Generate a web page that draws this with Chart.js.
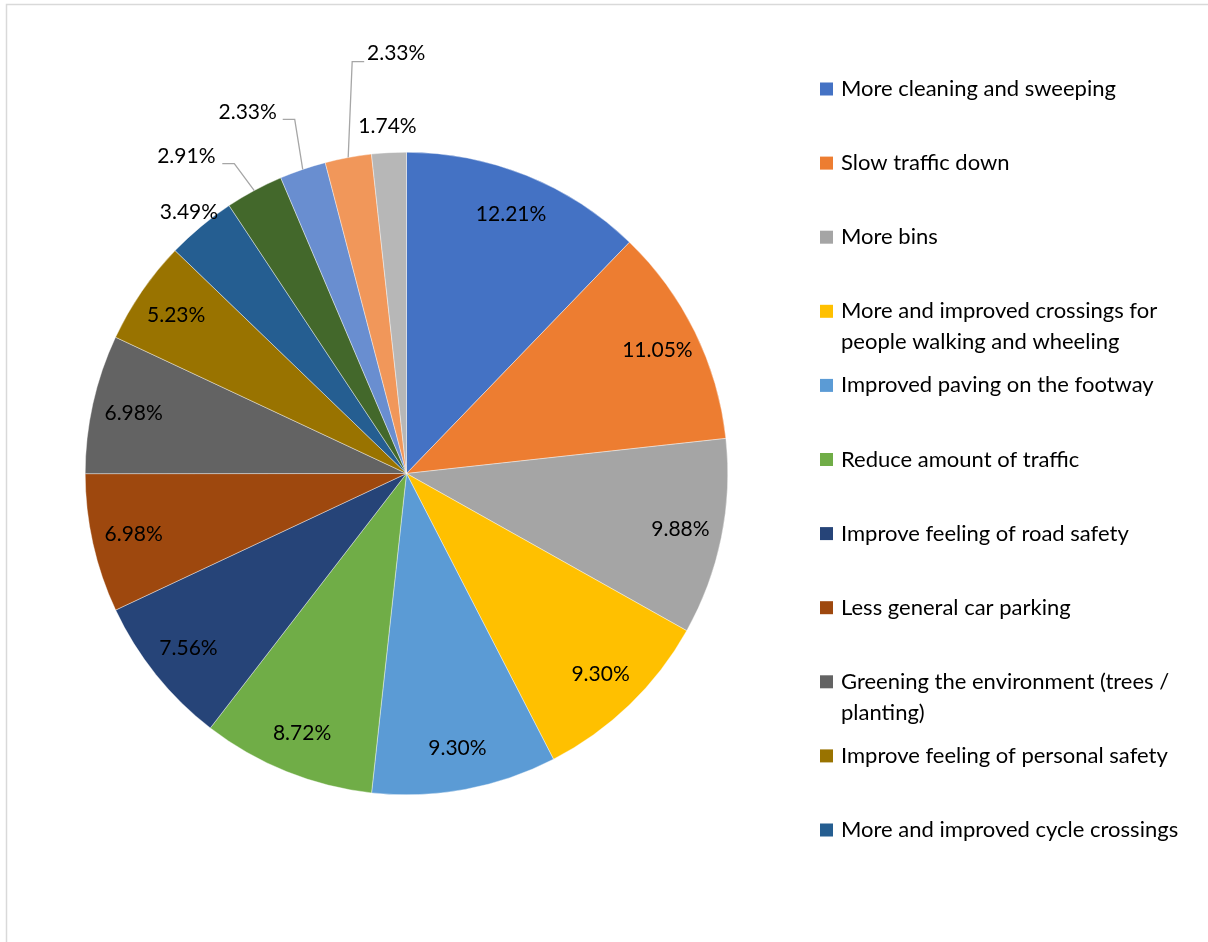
<!DOCTYPE html>
<html>
<head>
<meta charset="utf-8">
<script src="https://cdn.jsdelivr.net/npm/chart.js@4.4.1/dist/chart.umd.min.js"></script>
<style>
  html, body { margin: 0; padding: 0; background: #fff; }
  #wrap { position: absolute; left: 0; top: 0; width: 1208px; height: 942px; }
</style>
</head>
<body>
<div id="wrap"><canvas id="pieChart" width="1208" height="942"></canvas></div>
<script>
const categories = [
  'More cleaning and sweeping',
  'Slow traffic down',
  'More bins',
  'More and improved crossings for people walking and wheeling',
  'Improved paving on the footway',
  'Reduce amount of traffic',
  'Improve feeling of road safety',
  'Less general car parking',
  'Greening the environment (trees / planting)',
  'Improve feeling of personal safety',
  'More and improved cycle crossings',
  'Other 1',
  'Other 2',
  'Other 3',
  'Other 4'
];
const shares = [12.21, 11.05, 9.88, 9.30, 9.30, 8.72, 7.56, 6.98, 6.98, 5.23, 3.49, 2.91, 2.33, 2.33, 1.74];
const sliceColors = [
  '#4472C4', '#ED7D31', '#A5A5A5', '#FFC000', '#5B9BD5',
  '#70AD47', '#264478', '#9E480E', '#636363', '#997300',
  '#255E91', '#43682B', '#698ED0', '#F1975A', '#B7B7B7'
];
// only the first entries fit in the legend box
const legendCount = 11;

const labelFont = '21px Lato';
const legendFont = '22px Lato';

// outside labels: distance from centre as a fraction of the radius
const outsideLabels = { 10: 1.058, 14: 1.083 };
// labels with leader lines, offsets from the point where the slice meets the rim
const leaderLabels = {
  11: { elbow: [-20, -27], tail: [-32, -27], label: [-68, -34] },
  12: { elbow: [-8, -50], tail: [-20, -50], label: [-55, -57] },
  13: { elbow: [4, -96], tail: [16, -96], label: [48, -104] }
};

const framePlugin = {
  id: 'frame',
  beforeDraw(chart) {
    const ctx = chart.ctx;
    ctx.save();
    ctx.strokeStyle = '#d9d9d9';
    ctx.lineWidth = 1.5;
    ctx.strokeRect(6.5, 4.5, 1400, 1200);
    ctx.restore();
  }
};

const sliceLabels = {
  id: 'sliceLabels',
  afterDatasetsDraw(chart) {
    const ctx = chart.ctx;
    const meta = chart.getDatasetMeta(0);
    ctx.save();
    ctx.font = labelFont;
    ctx.fillStyle = '#000';
    ctx.textAlign = 'center';
    ctx.textBaseline = 'middle';
    meta.data.forEach((arc, i) => {
      const p = arc.getProps(['x', 'y', 'startAngle', 'endAngle', 'outerRadius'], true);
      const mid = (p.startAngle + p.endAngle) / 2;
      const text = shares[i].toFixed(2) + '%';
      const lead = leaderLabels[i];
      if (lead) {
        const ex = p.x + Math.cos(mid) * p.outerRadius;
        const ey = p.y + Math.sin(mid) * p.outerRadius;
        ctx.strokeStyle = '#a6a6a6';
        ctx.lineWidth = 1.3;
        ctx.beginPath();
        ctx.moveTo(ex, ey);
        ctx.lineTo(ex + lead.elbow[0], ey + lead.elbow[1]);
        ctx.lineTo(ex + lead.tail[0], ey + lead.tail[1]);
        ctx.stroke();
        ctx.fillText(text, ex + lead.label[0], ey + lead.label[1]);
        return;
      }
      const f = outsideLabels[i] || 0.87;
      ctx.fillText(text, p.x + Math.cos(mid) * p.outerRadius * f, p.y + Math.sin(mid) * p.outerRadius * f);
    });
    ctx.restore();
  }
};

function wrapText(ctx, text, maxWidth) {
  const words = text.split(' ');
  const lines = [];
  let line = '';
  words.forEach(w => {
    const test = line ? line + ' ' + w : w;
    if (line && ctx.measureText(test).width > maxWidth) {
      lines.push(line);
      line = w;
    } else {
      line = test;
    }
  });
  lines.push(line);
  return lines;
}

const sideLegend = {
  id: 'sideLegend',
  afterDraw(chart) {
    const ctx = chart.ctx;
    ctx.save();
    ctx.font = legendFont;
    ctx.textBaseline = 'middle';
    ctx.textAlign = 'left';
    for (let i = 0; i < legendCount; i++) {
      const y = 89 + i * 74.1;
      ctx.fillStyle = sliceColors[i];
      ctx.fillRect(820, y - 6.5, 13, 13);
      ctx.fillStyle = '#000';
      wrapText(ctx, categories[i], 345).forEach((ln, k) => {
        ctx.fillText(ln, 841, y + k * 31);
      });
    }
    ctx.restore();
  }
};

new Chart(document.getElementById('pieChart'), {
  type: 'pie',
  data: {
    labels: categories,
    datasets: [{
      data: shares,
      backgroundColor: sliceColors,
      borderColor: '#ffffff',
      borderWidth: 0.4
    }]
  },
  options: {
    responsive: false,
    animation: false,
    layout: { padding: { left: 85, top: 152, right: 480, bottom: 147 } },
    plugins: {
      legend: { display: false },
      tooltip: { enabled: false }
    }
  },
  plugins: [framePlugin, sliceLabels, sideLegend]
});
</script>
</body>
</html>
